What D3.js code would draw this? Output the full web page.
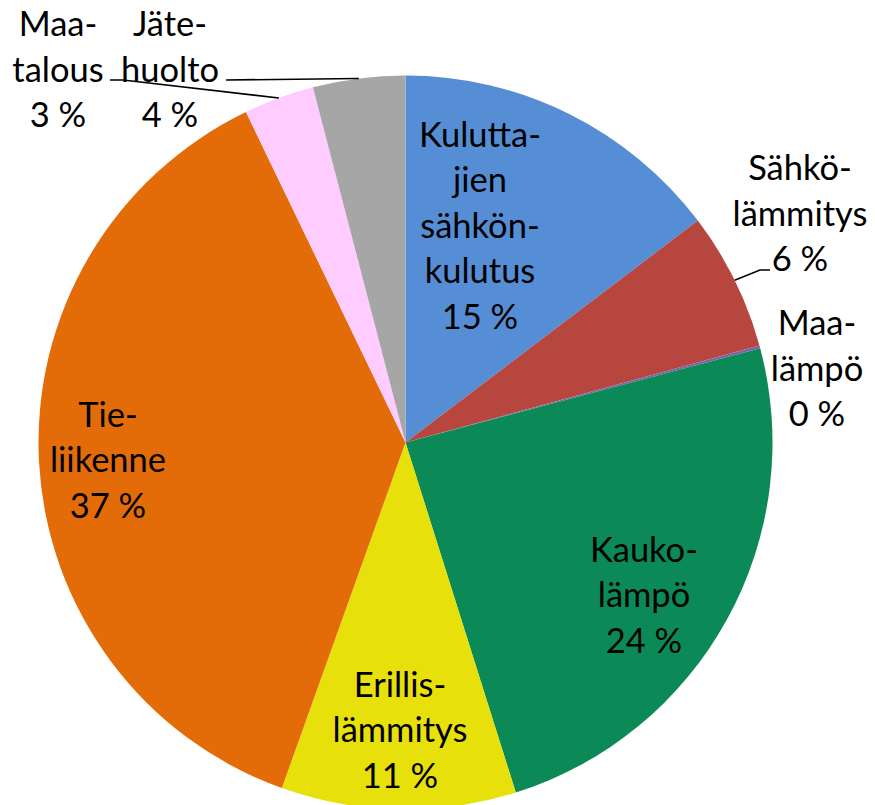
<!DOCTYPE html>
<html>
<head>
<meta charset="utf-8">
<script src="https://cdn.jsdelivr.net/npm/d3@7"></script>
<style>
  html, body { margin: 0; padding: 0; background: #ffffff; }
  svg { display: block; }
</style>
</head>
<body>
<svg id="chart" width="875" height="805"></svg>
<script>
// ---- data ----
const categories = ["Kuluttajien sähkönkulutus", "Sähkölämmitys", "Maalämpö", "Kaukolämpö",
                    "Erillislämmitys", "Tieliikenne", "Maatalous", "Jätehuolto"];
const values = [14.67, 6.08, 0.12, 24.28, 10.33, 37.38, 3.10, 4.06];
const labelLines = [
  ["Kulutta-", "jien", "sähkön-", "kulutus", "15 %"],
  ["Sähkö-", "lämmitys", "6 %"],
  ["Maa-", "lämpö", "0 %"],
  ["Kauko-", "lämpö", "24 %"],
  ["Erillis-", "lämmitys", "11 %"],
  ["Tie-", "liikenne", "37 %"],
  ["Maa-", "talous", "3 %"],
  ["Jäte-", "huolto", "4 %"]
];
const colors = ["#558ED5", "#B7463F", "#8064A2", "#0B8A57", "#E7E00A", "#E36C09", "#FFCCFF", "#A6A6A6"];

// ---- layout (not data) ----
const W = 875, H = 805;
const cx = 405.5, cy = 442.5, R = 367;
const lineGap = 45.5;
// first-line baseline position of each label block (center x, baseline y)
const labelAnchor = [
  [480, 146.7], [800, 180], [817, 335], [644, 561.7],
  [400, 696.7], [108, 426.7], [58, 36], [170, 36]
];
// leader line intermediate points (from slice edge toward label)
const leaders = {
  1: [[760, 270], [770, 270]],
  6: [[123, 80], [110, 80]],
  7: [[226, 80]]
};

const svg = d3.select("#chart");
const g = svg.append("g").attr("transform", `translate(${cx},${cy})`);

const color = d3.scaleOrdinal().domain(categories).range(colors);
const pie = d3.pie().sort(null).value(d => d.v).startAngle(0).endAngle(2 * Math.PI);
const data = categories.map((c, i) => ({ c, v: values[i], i }));
const arcs = pie(data);
const arc = d3.arc().innerRadius(0).outerRadius(R);

g.selectAll("path.slice")
  .data(arcs)
  .join("path")
  .attr("class", "slice")
  .attr("d", arc)
  .attr("fill", d => color(d.data.c));

// leader lines
const line = d3.line();
arcs.forEach(a => {
  const pts = leaders[a.data.i];
  if (!pts) return;
  const mid = (a.startAngle + a.endAngle) / 2;
  const start = [cx + R * Math.sin(mid), cy - R * Math.cos(mid)];
  svg.append("path")
    .attr("d", line([start, ...pts]))
    .attr("fill", "none")
    .attr("stroke", "#000")
    .attr("stroke-width", 1.6);
});

// labels
const fontFamily = "Lato, 'Open Sans', sans-serif";
// fit font size so "lämmitys" is about 135px wide (as in reference)
const probe = svg.append("text").attr("font-family", fontFamily).attr("font-size", 36).text("lämmitys");
const w36 = probe.node().getComputedTextLength();
probe.remove();
const fs = Math.max(28, Math.min(38, 36 * 135 / w36));

labelLines.forEach((lines, i) => {
  const [x, y] = labelAnchor[i];
  const t = svg.append("text")
    .attr("font-family", fontFamily)
    .attr("font-size", fs)
    .attr("fill", "#000")
    .attr("text-anchor", "middle");
  lines.forEach((s, k) => {
    t.append("tspan").attr("x", x).attr("y", y + k * lineGap).text(s);
  });
});
</script>
</body>
</html>
